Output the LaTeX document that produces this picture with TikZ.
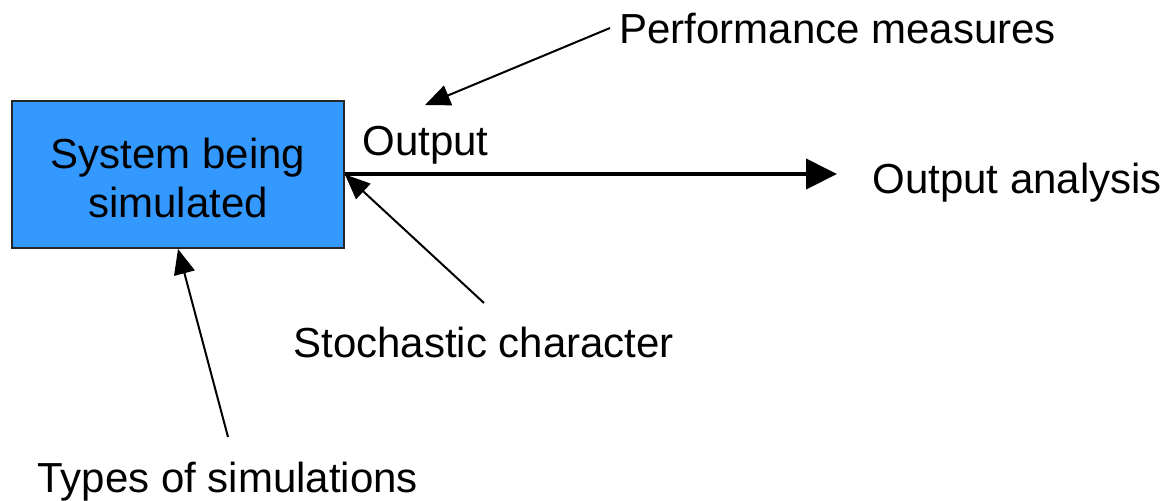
\documentclass[tikz,border=0pt]{standalone}
\usepackage{fontspec}
\setmainfont{Liberation Sans}
\usetikzlibrary{arrows.meta}
\definecolor{boxblue}{RGB}{51,153,255}
\tikzset{
  label text/.style={inner sep=0pt, anchor=base west, font=\fontsize{21}{24.5}\selectfont},
  sysbox/.style={draw=black!85, line width=1pt, fill=boxblue, minimum width=166pt,
    minimum height=73.5pt, inner sep=0pt, align=center, font=\fontsize{21}{24.5}\selectfont},
  thin arrow/.style={line width=1pt, -{Triangle[length=12.5pt, width=10.5pt]}},
  thick arrow/.style={line width=2pt, -{Triangle[length=15.5pt, width=15pt]}}
}
\begin{document}
\begin{tikzpicture}[x=0.5pt, y=-0.5pt]
  \useasboundingbox (0,0) rectangle (1170,500);

  % the system box and its two-line caption
  \node[sysbox] (sys) at (178,174.5) {};
  \node[inner sep=0pt, align=center, font=\fontsize{21}{24.5}\selectfont]
    (systext) at (178,177.5) {System being\\[0pt]simulated};

  % labels
  \node[label text] (out) at (362,155) {Output};
  \node[label text] (perf) at (619,43) {Performance measures};
  \node[label text] (ana) at (872,193) {Output analysis};
  \node[label text] (stoch) at (293,357) {Stochastic character};
  \node[label text] (types) at (37,492) {Types of simulations};

  % arrow ends
  \coordinate (outTip) at (837,174);
  \coordinate (perfTail) at (610,28);
  \coordinate (perfTip) at (425,105);
  \coordinate (stochTail) at (484,303);
  \coordinate (typesTail) at (228,437);

  % connectors
  \draw[thick arrow] (sys.east |- outTip) -- (outTip);
  \draw[thin arrow] (perfTail) -- (perfTip);
  \draw[thin arrow] (stochTail) -- (sys.east);
  \draw[thin arrow] (typesTail) -- (sys.south);
\end{tikzpicture}
\end{document}
